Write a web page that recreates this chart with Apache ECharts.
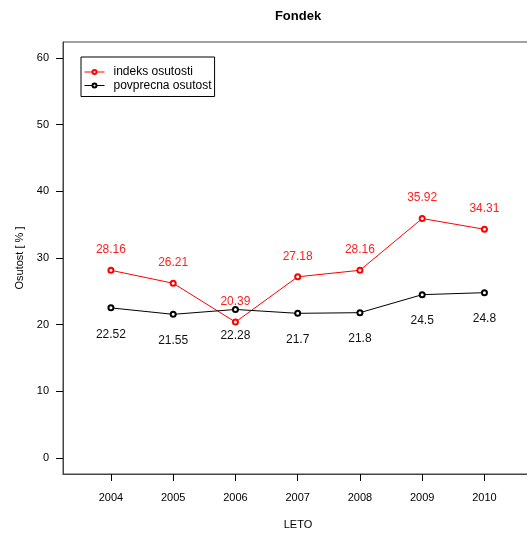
<!DOCTYPE html>
<html>
<head>
<meta charset="utf-8">
<script src="https://cdn.jsdelivr.net/npm/echarts@6/dist/echarts.min.js"></script>
<style>html,body{margin:0;padding:0;background:#fff;}#c{width:527px;height:533px;}</style>
</head>
<body>
<div id="c"></div>
<script>
const years = [2004, 2005, 2006, 2007, 2008, 2009, 2010];
const indeksOsutosti = [28.16, 26.21, 20.39, 27.18, 28.16, 35.92, 34.31];
const povprecnaOsutost = [22.52, 21.55, 22.28, 21.7, 21.8, 24.5, 24.8];
const yTicks = [0, 10, 20, 30, 40, 50, 60];

const font = 'Liberation Sans, Arial, sans-serif';
const chart = echarts.init(document.getElementById('c'));
chart.setOption({
  animation: false,
  backgroundColor: '#fff',
  title: {
    text: 'Fondek', left: 298, top: 10, textAlign: 'center', padding: 0,
    textStyle: { fontFamily: font, fontSize: 13, fontWeight: 'bold', color: '#000' }
  },
  legend: {
    orient: 'vertical', left: 81, top: 57,
    borderColor: '#000', borderWidth: 1, padding: [9, 3, 5, 3],
    itemGap: 1.5, itemWidth: 20, itemHeight: 5,
    lineStyle: { width: 1 },
    itemStyle: { borderWidth: 1 },
    textStyle: { fontFamily: font, fontSize: 12, color: '#000', padding: [0, 0, 0, 4] },
    data: ['indeks osutosti', 'povprecna osutost']
  },
  grid: {
    left: 63, top: 42, width: 470, height: 432,
    outerBoundsMode: 'none', containLabel: false,
    show: true, borderColor: '#444', borderWidth: 1, backgroundColor: 'transparent'
  },
  xAxis: {
    type: 'value', min: 2003.23, max: 2010.78,
    name: 'LETO', nameLocation: 'middle', nameGap: 45,
    nameTextStyle: { fontFamily: font, fontSize: 11, color: '#000' },
    splitLine: { show: false },
    axisLine: { show: true, onZero: false, lineStyle: { color: '#444' } },
    axisTick: { show: true, customValues: years, length: 7, lineStyle: { color: '#000' } },
    axisLabel: { customValues: years, margin: 18, fontFamily: font, fontSize: 11, color: '#000',
      formatter: v => String(v) }
  },
  yAxis: {
    type: 'value', min: -2.4, max: 62.4,
    name: 'Osutost [ % ]', nameLocation: 'middle', nameGap: 36, nameRotate: 90,
    nameTextStyle: { fontFamily: font, fontSize: 11, color: '#000' },
    splitLine: { show: false },
    axisLine: { show: true, onZero: false, lineStyle: { color: '#444' } },
    axisTick: { show: true, customValues: yTicks, length: 7, lineStyle: { color: '#000' } },
    axisLabel: { customValues: yTicks, margin: 14, fontFamily: font, fontSize: 11, color: '#000' }
  },
  series: [
    {
      name: 'indeks osutosti', type: 'line',
      data: years.map((y, i) => [y, indeksOsutosti[i]]),
      symbol: 'emptyCircle', symbolSize: 5,
      itemStyle: { color: '#ff0000', borderWidth: 1 },
      lineStyle: { color: '#ff0000', width: 1 },
      label: { show: true, position: 'top', distance: 11, fontFamily: font, fontSize: 12, color: '#ff2020',
        formatter: p => String(p.value[1]) }
    },
    {
      name: 'povprecna osutost', type: 'line',
      data: years.map((y, i) => [y, povprecnaOsutost[i]]),
      symbol: 'emptyCircle', symbolSize: 5,
      itemStyle: { color: '#000', borderWidth: 1 },
      lineStyle: { color: '#000', width: 1 },
      label: { show: true, position: 'bottom', distance: 17, fontFamily: font, fontSize: 12, color: '#111',
        formatter: p => String(p.value[1]) }
    }
  ]
});
</script>
</body>
</html>
